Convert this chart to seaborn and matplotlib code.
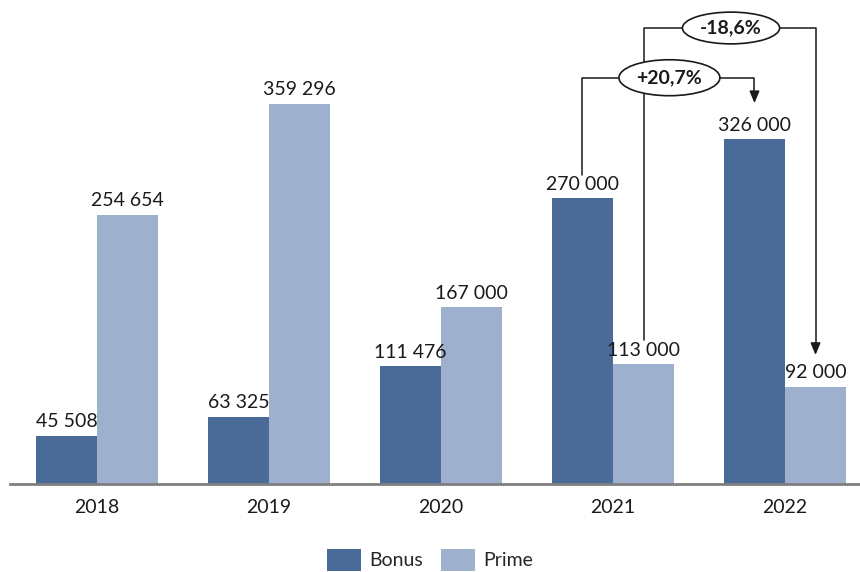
import matplotlib
matplotlib.use("Agg")
import matplotlib.pyplot as plt
import seaborn as sns
import pandas as pd
from matplotlib.patches import Ellipse, Patch

years = ["2018", "2019", "2020", "2021", "2022"]
bonus = [45508, 63325, 111476, 270000, 326000]
prime = [254654, 359296, 167000, 113000, 92000]
series = ["Bonus", "Prime"]
colors = ["#4A6A98", "#9DB0CE"]

df = pd.DataFrame({
    "year": years * 2,
    "value": bonus + prime,
    "series": ["Bonus"] * len(years) + ["Prime"] * len(years),
})

sns.set_theme(style="white")
plt.rcParams["font.family"] = ["Lato", "DejaVu Sans"]

fig = plt.figure(figsize=(8.6, 5.72), dpi=100)
ax = fig.add_axes([0.0116, 0.1538, 0.9884, 0.8287])

sns.barplot(data=df, x="year", y="value", hue="series", palette=colors,
            width=0.71, gap=0, saturation=1, linewidth=0, ax=ax, legend=False)

def fmt(v):
    return f"{v:,.0f}".replace(",", " ")

for cont in ax.containers:
    ax.bar_label(cont, labels=[fmt(b.get_height()) for b in cont],
                 padding=4, fontsize=14, color="#1a1a1a")

ax.set_xlim(-0.506, 4.436)
ax.set_ylim(0, 448000)
ax.set_xlabel("")
ax.set_ylabel("")
ax.set_yticks([])
ax.tick_params(axis="x", length=0, labelsize=14, pad=11, colors="#1a1a1a")
for s in ["top", "right", "left"]:
    ax.spines[s].set_visible(False)
ax.spines["bottom"].set_color("#7f7f7f")
ax.spines["bottom"].set_linewidth(2)

# bar centres from the drawn patches
bx = {}
for cont, name in zip(ax.containers, series):
    bx[name] = [b.get_x() + b.get_width() / 2 for b in cont]

line_kw = dict(color="#1a1a1a", lw=1.1, zorder=4)

def bracket(x0, y0, x1, y1, ytop, text, ecx, ew, eh):
    ax.plot([x0, x0, x1, x1], [y0, ytop, ytop, y1 + 9000], **line_kw)
    ax.annotate("", xy=(x1, y1), xytext=(x1, y1 + 9500),
                arrowprops=dict(arrowstyle="-|>,head_width=0.25,head_length=0.6",
                                color="#1a1a1a", lw=1.1, shrinkA=0, shrinkB=0),
                zorder=4)
    ax.add_patch(Ellipse((ecx, ytop), ew, eh, facecolor="white",
                         edgecolor="#1a1a1a", lw=1.2, zorder=6))
    ax.text(ecx, ytop, text, ha="center", va="center", fontsize=14,
            fontweight="bold", color="#1a1a1a", zorder=7)

# 2022 prime vs 2021 prime
bracket(bx["Prime"][3], 136000, bx["Prime"][4], 122000, 431000,
        "-18,6%", 3.686, 0.565, 30000)
# 2022 bonus vs 2021 bonus
bracket(bx["Bonus"][3], 292000, bx["Bonus"][4], 360000, 384000,
        "+20,7%", 3.328, 0.587, 34000)

handles = [Patch(facecolor=c, edgecolor="none") for c in colors]
fig.legend(handles, series, loc="lower center", ncol=2, frameon=False,
           fontsize=14, bbox_to_anchor=(0.5, -0.028), handlelength=1.75,
           handleheight=1.35, handletextpad=0.45, columnspacing=0.9)

fig.savefig("out.png", dpi=100)
